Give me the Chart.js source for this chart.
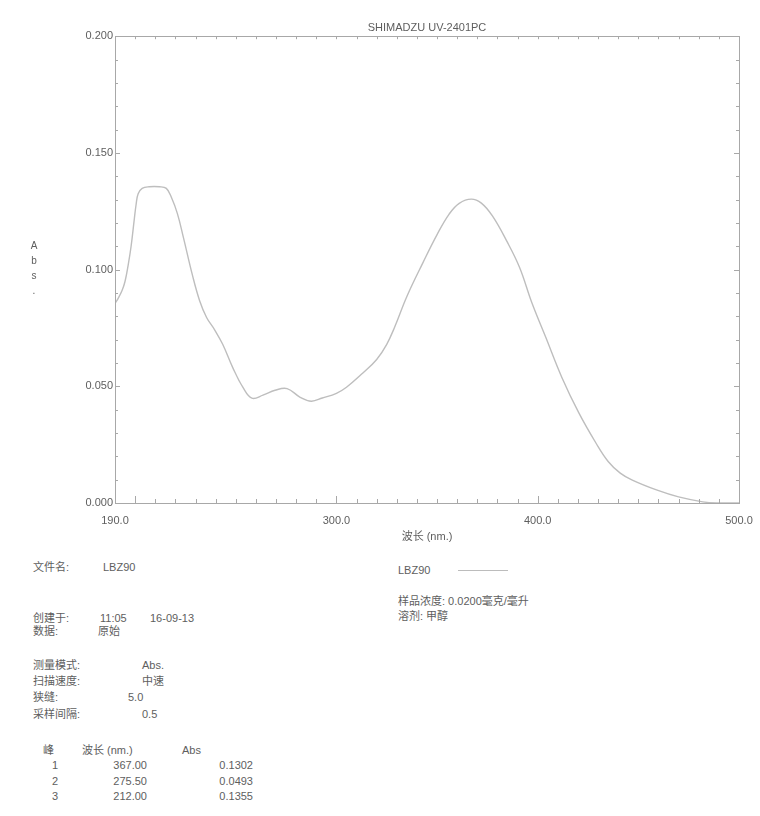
<!DOCTYPE html>
<html>
<head>
<meta charset="utf-8">
<script src="https://cdn.jsdelivr.net/npm/chart.js@4.4.1/dist/chart.umd.min.js"></script>
<style>
  html, body { margin: 0; padding: 0; background: #fff; }
  body { width: 760px; height: 816px; position: relative; overflow: hidden;
         font-family: 'Liberation Sans', 'Noto Sans CJK SC', sans-serif; font-size: 11px; color: #5e5e5e; }
  #spectrum { position: absolute; left: 0; top: 0; }
  .t { position: absolute; white-space: nowrap; line-height: 14px; }
  .r { text-align: right; }
  #ylab { position: absolute; left: 29px; top: 238px; width: 10px; text-align: center; line-height: 15px; font-size: 10px; }
  #legline { position: absolute; left: 458px; top: 570px; width: 50px; border-top: 1px solid #bcbcbc; }
</style>
</head>
<body>
<canvas id="spectrum" width="760" height="560"></canvas>
<div id="ylab">A<br>b<br>s<br>.</div>
<div id="info"></div>
<div id="legline"></div>

<script>
// ── Dati spettro (lettura dal grafico) ─────────────────────────────────────
const wavelength = [
  190, 191.5, 193.5, 195, 196.5, 198, 199.5, 200.5, 201.5, 203.5,
  207, 212, 215.5, 218, 221, 224, 228.5, 232, 235.5,
  239.5, 243.5, 248.5, 253.5, 258, 263.5, 269.5, 275.5, 282, 287.5,
  293, 300, 305, 313, 320, 325, 329, 335, 343, 350,
  356, 361, 367, 372, 377.5, 384.5, 391, 397, 404, 412,
  420.5, 429, 435, 441, 447, 459, 470, 482, 489, 500
];
const absorbance = [
  0.0855, 0.0876, 0.0910, 0.0950, 0.1017, 0.1100, 0.1210, 0.1280, 0.1325, 0.1348,
  0.1355, 0.1355, 0.1348, 0.1310, 0.1240, 0.1137, 0.0975, 0.0868, 0.0795,
  0.0742, 0.0680, 0.0580, 0.0496, 0.0449, 0.0462, 0.0483, 0.0490, 0.0453, 0.0436,
  0.0450, 0.0470, 0.0496, 0.0556, 0.0615, 0.0680, 0.0755, 0.0885, 0.1030, 0.1150,
  0.1238, 0.1284, 0.1302, 0.1285, 0.1230, 0.1124, 0.1009, 0.0860, 0.0710, 0.0538,
  0.0385, 0.0256, 0.0178, 0.0128, 0.0098, 0.0056, 0.0026, 0.0005, 0.0000, 0.0000
];

const xTicks = [190, 300, 400, 500];
const yTicks = [0, 0.05, 0.10, 0.15, 0.20];

// Tabella picchi
const peakNo  = ['1', '2', '3'];
const peakNm  = ['367.00', '275.50', '212.00'];
const peakAbs = ['0.1302', '0.0493', '0.1355'];

const TEXT = '#5e5e5e';
const AXIS = '#a8a8a8';

// ── Testi sotto il grafico ──────────────────────────────────────────────────
const info = document.getElementById('info');
function put(txt, x, y, right) {
  const d = document.createElement('div');
  d.className = 't' + (right ? ' r' : '');
  d.textContent = txt;
  d.style.top = (y - 7) + 'px';
  if (right) { d.style.left = (x - 80) + 'px'; d.style.width = '80px'; }
  else d.style.left = x + 'px';
  info.appendChild(d);
}
put('文件名:', 33, 567);   put('LBZ90', 103, 567);
put('LBZ90', 398, 570);
put('样品浓度: 0.0200毫克/毫升', 398, 601);
put('溶剂: 甲醇', 398, 616);
put('创建于:', 33, 618);   put('11:05', 100, 618); put('16-09-13', 150, 618);
put('数据:', 33, 631);     put('原始', 98, 631);
put('测量模式:', 33, 665); put('Abs.', 142, 665);
put('扫描速度:', 33, 681); put('中速', 142, 681);
put('狭缝:', 33, 697);     put('5.0', 128, 697);
put('采样间隔:', 33, 714); put('0.5', 142, 714);
put('峰', 43, 750); put('波长 (nm.)', 82, 750); put('Abs', 182, 750);
peakNo.forEach((n, i) => {
  const y = 765 + i * 15.5;
  put(n, 58, y, true);
  put(peakNm[i], 147, y, true);
  put(peakAbs[i], 253, y, true);
});

// ── Cornice e tacche minori ─────────────────────────────────────────────────
const framePlugin = {
  id: 'frame',
  afterDraw(chart) {
    const { ctx, chartArea: a, scales: { x, y } } = chart;
    ctx.save();
    ctx.strokeStyle = AXIS;
    ctx.lineWidth = 1;
    ctx.strokeRect(Math.round(a.left) + 0.5, Math.round(a.top) + 0.5,
                   Math.round(a.right - a.left), Math.round(a.bottom - a.top));
    ctx.beginPath();
    for (let v = 200; v < 500; v += 10) {
      const px = Math.round(x.getPixelForValue(v)) + 0.5;
      const len = v % 100 === 0 ? 7 : 4;
      ctx.moveTo(px, a.bottom); ctx.lineTo(px, a.bottom - len);
      ctx.moveTo(px, a.top);    ctx.lineTo(px, a.top + 3);
    }
    for (let k = 1; k < 20; k++) {
      const py = Math.round(y.getPixelForValue(k / 100)) + 0.5;
      const len = k % 5 === 0 ? 5 : 3;
      ctx.moveTo(a.left, py);  ctx.lineTo(a.left + len, py);
      ctx.moveTo(a.right, py); ctx.lineTo(a.right - len, py);
    }
    ctx.stroke();
    ctx.restore();
  }
};

Chart.defaults.font.family = "'Liberation Sans', 'Noto Sans CJK SC', sans-serif";
Chart.defaults.font.size = 11;
Chart.defaults.color = TEXT;

new Chart(document.getElementById('spectrum'), {
  type: 'line',
  data: {
    datasets: [{
      label: 'LBZ90',
      data: wavelength.map((w, i) => ({ x: w, y: absorbance[i] })),
      borderColor: '#bebebe',
      borderWidth: 1.4,
      pointRadius: 0,
      tension: 0.4,
      fill: false,
    }],
  },
  options: {
    responsive: false,
    animation: false,
    devicePixelRatio: 1,
    layout: { padding: { top: 0, right: 21, bottom: 0, left: 0 } },
    plugins: {
      legend: { display: false },
      tooltip: { enabled: false },
      title: {
        display: true,
        text: 'SHIMADZU UV-2401PC',
        fullSize: false,
        color: TEXT,
        font: { size: 11, weight: 'normal' },
        padding: { top: 21, bottom: 2 },
      },
    },
    scales: {
      x: {
        type: 'linear',
        min: 190, max: 500,
        grid: { display: false, drawTicks: false },
        border: { display: false },
        ticks: { padding: 11, callback: v => v.toFixed(1) },
        afterBuildTicks: s => { s.ticks = xTicks.map(v => ({ value: v })); },
        afterFit: s => { s.height = 57; s.paddingRight = 0; },
        title: { display: true, text: '波长 (nm.)', color: TEXT, font: { size: 11 }, padding: { top: 0, bottom: 16 } },
      },
      y: {
        type: 'linear',
        min: 0, max: 0.2,
        grid: { display: false, drawTicks: false },
        border: { display: false },
        ticks: { padding: 2, callback: v => v.toFixed(3) },
        afterBuildTicks: s => { s.ticks = yTicks.map(v => ({ value: v })); },
        afterFit: s => { s.width = 115; },
      },
    },
  },
  plugins: [framePlugin],
});
</script>
</body>
</html>
